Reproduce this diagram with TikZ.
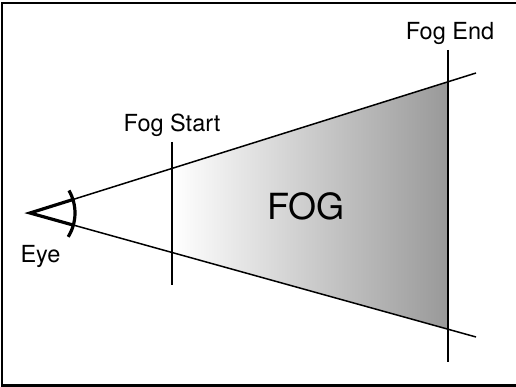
\documentclass[tikz,border=0pt]{standalone}
\usepackage{fontspec}
\setmainfont{TeX Gyre Heros}
\begin{document}
\begin{tikzpicture}[x=1pt, y=-1pt, line width=1.5pt,
    every node/.style={font=\fontsize{23.5}{23.5}\selectfont, inner sep=0pt}]
  \useasboundingbox (0,0) rectangle (516,387);
  \draw[line width=2.3pt] (2,3) rectangle (530,385.5);
  % eye and the two sight lines
  \coordinate (eye) at (30,213);
  \coordinate (upend) at (476,73);
  \coordinate (loend) at (476,337);
  % fog start / fog end markers
  \coordinate (fstop) at (172,142);
  \coordinate (fsbot) at (172,285);
  \coordinate (fetop) at (448,50);
  \coordinate (febot) at (448,362);
  \coordinate (fsup) at (intersection of eye--upend and fstop--fsbot);
  \coordinate (fslo) at (intersection of eye--loend and fstop--fsbot);
  \coordinate (feup) at (intersection of eye--upend and fetop--febot);
  \coordinate (felo) at (intersection of eye--loend and fetop--febot);
  \shade[left color=white, right color=black!40] (fsup) -- (feup) -- (felo) -- (fslo) -- cycle;
  \draw (eye) -- (upend);
  \draw (eye) -- (loend);
  \draw (fstop) -- (fsbot);
  \draw (fetop) -- (febot);
  % the eye itself
  \draw[line width=3.2pt] (eye) ++(-17.4:45) -- (eye) -- ++(15.6:45);
  \draw[line width=3.2pt] (eye) ++(-30:45) arc[start angle=-30, end angle=32, radius=45];
  \node[anchor=base] (fogstart) at (172,132) {Fog Start};
  \node[anchor=base] (fogend) at (450,40) {Fog End};
  \node[anchor=base] (eyelabel) at (40.5,262) {Eye};
  \node[anchor=base, font=\fontsize{36}{36}\selectfont] (fog) at (306,220) {FOG};
\end{tikzpicture}
\end{document}
